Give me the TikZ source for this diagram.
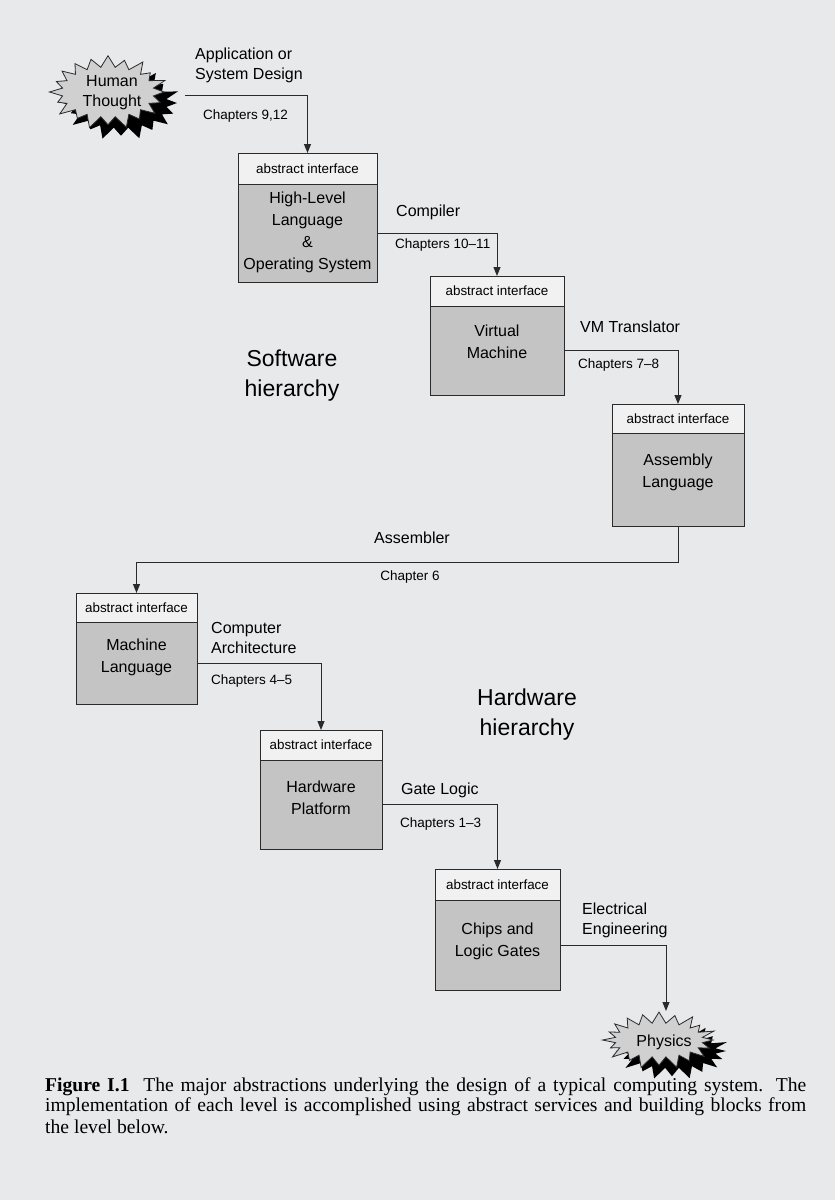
\documentclass[tikz,border=0pt]{standalone}
\usepackage{fontspec}
\setmainfont{Liberation Sans}
\newfontfamily\capfont{Liberation Serif}
\usetikzlibrary{arrows.meta}
\definecolor{pagebg}{HTML}{E8E9EB}
\definecolor{bodygray}{HTML}{C4C4C4}
\definecolor{headfill}{HTML}{F1F1F1}
\definecolor{ink}{HTML}{2A2A2A}
\definecolor{burstfill}{HTML}{D0D0D0}

\newcommand{\burstpath}[2]{%
  (0:#1 and #2) \foreach \i [evaluate=\i as \rxx using {mod(\i,2)==1 ? #1-10 : #1*(1+0.07*sin(\i*97))},
                              evaluate=\i as \ryy using {mod(\i,2)==1 ? #2-10 : #2*(1+0.07*sin(\i*97))}] in {1,...,39}{ -- ({\i*9}:{\rxx} and {\ryy}) } -- cycle}
\newcommand{\drawburst}[4]{%
  \fill[black,shift={(#1+13,#2+11)}] \burstpath{#3}{#4};
  \filldraw[fill=burstfill,draw=ink,line width=0.8pt,shift={(#1,#2)}] \burstpath{#3}{#4};}

\tikzset{
  hdr/.style={draw=ink, line width=1pt, fill=headfill, anchor=north west, outer sep=0pt, inner sep=0pt,
    font=\fontsize{13.4}{16}\selectfont},
  bodybox/.style={draw=ink, line width=1pt, fill=bodygray, anchor=north, outer sep=0pt, inner sep=0pt},
  btext/.style={align=center, inner sep=0pt, font=\fontsize{16}{22}\selectfont},
  lbl/.style={align=left, inner sep=0pt, anchor=west, font=\fontsize{16}{20}\selectfont},
  chap/.style={inner sep=0pt, anchor=west, font=\fontsize{13.5}{16}\selectfont},
  big/.style={align=center, inner sep=0pt, font=\fontsize{23}{30}\selectfont},
  conn/.style={draw=ink, line width=1pt, -{Triangle[length=9pt,width=7pt]}},
  capline/.style={inner sep=0pt, anchor=west, font=\capfont\fontsize{19.6}{20}\selectfont}
}

\begin{document}
\begin{tikzpicture}[x=1pt,y=-1pt]
\useasboundingbox (0,0) rectangle (835,1200);
\fill[pagebg] (0,0) rectangle (835,1200);

% Human Thought burst
\drawburst{108}{92}{56}{35}
\node[btext, font=\fontsize{16}{20}\selectfont] (ht) at (112,93) {Human\\Thought};
\coordinate (htR) at (185,95);

% High-Level Language
\node[hdr, minimum width=139pt, minimum height=31pt] (hllH) at (238,153) {abstract interface};
\node[bodybox, minimum width=139pt, minimum height=98pt] (hll) at (hllH.south) {};
\node[btext] (hllT) at ([yshift=1pt]hll.center) {High-Level\\Language\\\&\\Operating System};

% Virtual Machine
\node[hdr, minimum width=134pt, minimum height=30pt] (vmH) at (430,276) {abstract interface};
\node[bodybox, minimum width=134pt, minimum height=89pt] (vm) at (vmH.south) {};
\node[btext] (vmT) at ([yshift=9pt]vm.center) {Virtual\\Machine};

% Assembly Language
\node[hdr, minimum width=132pt, minimum height=29pt] (asmH) at (612,404) {abstract interface};
\node[bodybox, minimum width=132pt, minimum height=93pt] (asm) at (asmH.south) {};
\node[btext] (asmT) at ([yshift=7pt]asm.center) {Assembly\\Language};

% Machine Language
\node[hdr, minimum width=121pt, minimum height=29pt] (mlH) at (76,593) {abstract interface};
\node[bodybox, minimum width=121pt, minimum height=82pt] (ml) at (mlH.south) {};
\node[btext] (mlT) at ([yshift=6pt]ml.center) {Machine\\Language};

% Hardware Platform
\node[hdr, minimum width=122pt, minimum height=30pt] (hpH) at (260,730) {abstract interface};
\node[bodybox, minimum width=122pt, minimum height=89pt] (hp) at (hpH.south) {};
\node[btext] (hpT) at ([yshift=7pt]hp.center) {Hardware\\Platform};

% Chips and Logic Gates
\node[hdr, minimum width=125pt, minimum height=31pt] (chH) at (435,869) {abstract interface};
\node[bodybox, minimum width=125pt, minimum height=90pt] (ch) at (chH.south) {};
\node[btext] (chT) at ([yshift=4pt]ch.center) {Chips and\\Logic Gates};

% Physics burst
\drawburst{659}{1040}{54}{27}
\node[btext, font=\fontsize{16}{20}\selectfont] (phy) at (664,1042) {Physics};
\coordinate (phyT) at (666,1011);

% connectors
\draw[conn] (htR) -| (hllH.north);
\draw[conn] (hll.east) -| (vmH.north);
\draw[conn] (vm.east) -| (asmH.north);
\draw[conn] (asm.south) -- ++(0,36) -| (mlH.north);
\draw[conn] (ml.east) -| (hpH.north);
\draw[conn] (hp.east) -| (chH.north);
\draw[conn] (ch.east) -| (phyT);

% labels
\node[lbl] (l1) at (195,65) {Application or\\System Design};
\node[chap] (c1) at (203,116) {Chapters 9,12};
\node[lbl] (l2) at (396,212) {Compiler};
\node[chap] (c2) at (395,245) {Chapters 10–11};
\node[lbl] (l3) at (580,327) {VM Translator};
\node[chap] (c3) at (578,365) {Chapters 7–8};
\node[lbl, anchor=center] (l4) at (412,538) {Assembler};
\node[chap, anchor=center] (c4) at (410,577) {Chapter 6};
\node[lbl] (l5) at (211,638) {Computer\\Architecture};
\node[chap] (c5) at (211,681) {Chapters 4–5};
\node[lbl] (l6) at (401,790) {Gate Logic};
\node[chap] (c6) at (400,824) {Chapters 1–3};
\node[lbl] (l7) at (582,920) {Electrical\\Engineering};

\node[big] (sw) at (292,376) {Software\\hierarchy};
\node[big] (hw) at (527,715) {Hardware\\hierarchy};

% caption
\node[capline] (cap1) at (45,1087) {\hbox to 761pt{\textbf{Figure I.1}\hspace{0.7em}The major abstractions underlying the design of a typical computing system. The}};
\node[capline] (cap2) at (45,1107) {\hbox to 761pt{implementation of each level is accomplished using abstract services and building blocks from}};
\node[capline] (cap3) at (45,1127) {the level below.};
\end{tikzpicture}
\end{document}
